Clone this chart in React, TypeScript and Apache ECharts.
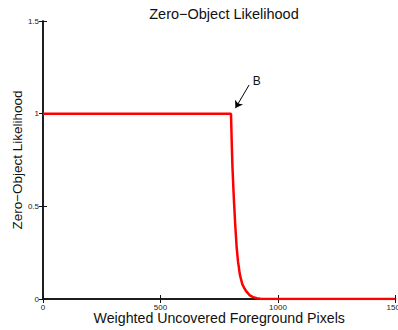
import React, { useEffect, useRef } from "react";
import * as echarts from "echarts";

const titleText = "Zero\u2212Object Likelihood";
const xName = "Weighted Uncovered Foreground Pixels";
const yName = "Zero\u2212Object Likelihood";

// curve samples: [pixels, likelihood]
const xs = [0, 100, 200, 300, 400, 500, 600, 700, 800, 803, 806, 810, 813, 818, 824, 830, 838, 848, 858, 867, 880, 894, 910, 925, 940, 1000, 1200, 1500];
const ys = [1, 1, 1, 1, 1, 1, 1, 1, 1, 0.85, 0.72, 0.6, 0.52, 0.4, 0.28, 0.2, 0.13, 0.08, 0.055, 0.038, 0.02, 0.01, 0.004, 0.001, 0, 0, 0, 0];

const annotationLabel = "B";
const arrowFrom = [877, 1.155];
const arrowTo = [819, 1.03];
const labelAt = [910, 1.177];

export default function App() {
  const ref = useRef<HTMLDivElement>(null);
  useEffect(() => {
    document.body.style.margin = "0";
    const chart = echarts.init(ref.current!, null, { renderer: "svg" });
    const font = "Liberation Sans";
    const axisLine = { show: true, lineStyle: { color: "#111", width: 1.5 } };
    const tick = { show: true, inside: true, length: 4, lineStyle: { color: "#111", width: 1 } };
    chart.setOption({
      animation: false,
      backgroundColor: "#fff",
      title: {
        text: titleText,
        left: 219,
        textAlign: "center",
        top: 1,
        textStyle: { fontFamily: font, fontSize: 14.5, fontWeight: "normal", color: "#111" },
      },
      grid: { left: 43, right: 2.5, top: 21, bottom: 31, show: false, containLabel: false, outerBoundsMode: "none" },
      xAxis: [
        {
          type: "value",
          min: 0,
          max: 1500,
          interval: 500,
          position: "bottom",
          axisLine,
          axisTick: tick,
          splitLine: { show: false },
          axisLabel: { fontFamily: font, fontSize: 8, color: "#222", margin: 4, formatter: (v: number) => String(v) },
          name: xName,
          nameLocation: "middle",
          nameGap: 12,
          nameMoveOverlap: false,
          nameTextStyle: { fontFamily: font, fontSize: 14.2, color: "#111", verticalAlign: "top" },
        },
        {
          type: "value",
          min: 0,
          max: 1500,
          interval: 500,
          position: "top",
          axisLine,
          axisTick: tick,
          splitLine: { show: false },
          axisLabel: { show: false },
        },
      ],
      yAxis: [
        {
          type: "value",
          min: 0,
          max: 1.5,
          interval: 0.5,
          position: "left",
          axisLine,
          axisTick: tick,
          splitLine: { show: false },
          axisLabel: { fontFamily: font, fontSize: 8, color: "#222", margin: 4, formatter: (v: number) => String(v) },
          name: yName,
          nameLocation: "middle",
          nameGap: 19,
          nameMoveOverlap: false,
          nameTextStyle: { fontFamily: font, fontSize: 13.5, color: "#111" },
        },
        {
          type: "value",
          min: 0,
          max: 1.5,
          interval: 0.5,
          position: "right",
          axisLine,
          axisTick: tick,
          splitLine: { show: false },
          axisLabel: { show: false },
        },
      ],
      series: [
        {
          type: "line",
          data: xs.map((x, i) => [x, ys[i]]),
          showSymbol: false,
          lineStyle: { color: "#ff0000", width: 2.5 },
          itemStyle: { color: "#ff0000" },
          z: 3,
          markLine: {
            silent: true,
            symbol: ["none", "arrow"],
            symbolSize: 7,
            lineStyle: { color: "#000", width: 1, type: "solid" },
            label: { show: false },
            data: [[{ coord: arrowFrom }, { coord: arrowTo }]],
          },
          markPoint: {
            silent: true,
            symbol: "circle",
            symbolSize: 0,
            label: {
              show: true,
              formatter: annotationLabel,
              fontFamily: font,
              fontSize: 12,
              color: "#111",
            },
            data: [{ coord: labelAt }],
          },
        },
      ],
    });
    return () => chart.dispose();
  }, []);
  return <div ref={ref} style={{ position: "fixed", left: 0, top: 0, width: 398, height: 330 }} />;
}
